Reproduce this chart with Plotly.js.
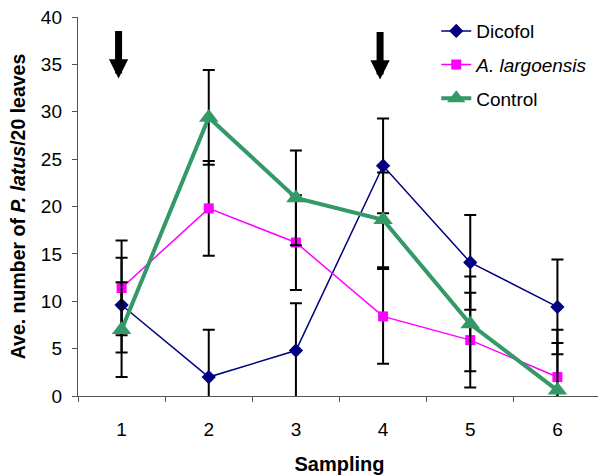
<!DOCTYPE html>
<html>
<head>
<meta charset="utf-8">
<script src="https://cdn.plot.ly/plotly-3.0.1.min.js"></script>
<style>
html,body{margin:0;padding:0;overflow:hidden;background:#fff;}
#chart{width:601px;height:476px;}
</style>
</head>
<body>
<div id="chart"></div>
<script>
var samplings = ['1', '2', '3', '4', '5', '6'];
var dicofol = [9.6, 2.0, 4.8, 24.3, 14.1, 9.4];
var largoensis = [11.4, 19.8, 16.2, 8.4, 5.9, 2.0];
var control = [7.0, 29.4, 20.9, 18.6, 7.6, 0.6];
var errDicofol = [5, 5, 5, 5, 5, 5];
var errLargoensis = [5, 5, 5, 5, 5, 5];
var errControl = [5, 5, 5, 5, 5, 5];
var arrowSamplingIndex = [0, 3];
var arrowTipY = [33.5, 33.4];

var font = 'Liberation Sans, Arial, sans-serif';

function errStyle(arr) {
  return {type: 'data', array: arr, visible: true, color: '#000000', thickness: 2, width: 6};
}

var traces = [
  {
    x: samplings, y: dicofol, name: 'Dicofol', type: 'scatter', mode: 'lines+markers',
    line: {color: '#000080', width: 1.5},
    marker: {symbol: 'diamond', size: 11, color: '#000080'},
    error_y: errStyle(errDicofol), legendgroup: 'a', cliponaxis: false
  },
  {
    x: samplings, y: largoensis, name: '<i>A. largoensis</i>', type: 'scatter', mode: 'lines+markers',
    line: {color: '#FF00FF', width: 1.5},
    marker: {symbol: 'square', size: 10, color: '#FF00FF'},
    error_y: errStyle(errLargoensis), legendgroup: 'b', cliponaxis: false
  },
  {
    x: samplings, y: control, name: 'Control', type: 'scatter', mode: 'lines+markers',
    line: {color: '#339966', width: 4},
    marker: {symbol: 'triangle-up', size: 17, color: '#339966'},
    error_y: errStyle(errControl), legendgroup: 'c', cliponaxis: false
  }
];

var annotations = arrowSamplingIndex.map(function (s, i) {
  return {
    x: s, y: arrowTipY[i], xref: 'x', yref: 'y', text: '', showarrow: true,
    ax: 0, ay: -49, arrowhead: 2, arrowsize: 0.55, arrowwidth: 7, arrowcolor: '#000000',
    standoff: 0, xshift: -3
  };
});

var layout = {
  width: 601, height: 476,
  margin: {l: 78, r: 0, t: 17, b: 80},
  paper_bgcolor: '#ffffff', plot_bgcolor: '#ffffff',
  font: {family: font, size: 19, color: '#000000'},
  showlegend: true,
  legend: {
    x: 0.685, y: 1.013, xanchor: 'left', yanchor: 'top',
    font: {family: font, size: 19, color: '#000000'},
    traceorder: 'grouped', tracegroupgap: 6, bgcolor: 'rgba(0,0,0,0)'
  },
  xaxis: {
    type: 'category', range: [-0.5, 5.5], autorange: false,
    tickson: 'boundaries', ticks: 'outside', ticklen: 5, tickcolor: '#555555',
    ticklabelstandoff: 16,
    showline: true, linecolor: '#555555', linewidth: 1.2, showgrid: false, zeroline: false,
    tickfont: {family: font, size: 19, color: '#000000'},
    title: {text: '<b>Sampling</b>', font: {family: font, size: 20, color: '#000000'}, standoff: 18}
  },
  yaxis: {
    range: [0, 40], autorange: false, dtick: 5, ticks: 'outside', ticklen: 5, tickcolor: '#555555',
    ticklabelstandoff: 6,
    showline: true, linecolor: '#555555', linewidth: 1.2, showgrid: false, zeroline: false,
    tickfont: {family: font, size: 19, color: '#000000'},
    title: {text: '<b>Ave. number of <i>P. latus</i>/20 leaves</b>', font: {family: font, size: 19.5, color: '#000000'}, standoff: 10}
  },
  annotations: annotations
};

Plotly.newPlot('chart', traces, layout, {displayModeBar: false, staticPlot: true});
</script>
</body>
</html>
